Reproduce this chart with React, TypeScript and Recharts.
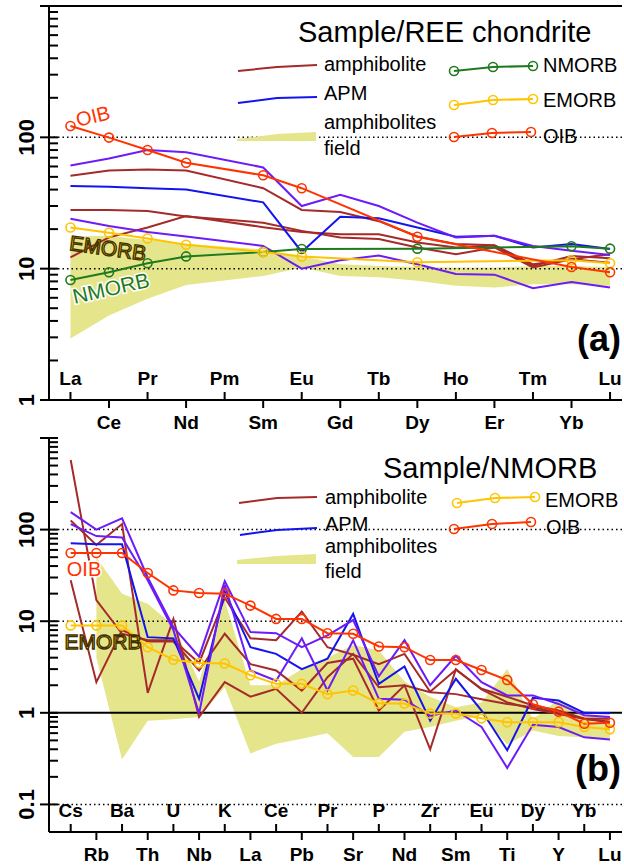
import React from 'react';
import { ComposedChart, Line, Area, XAxis, YAxis, ReferenceLine } from 'recharts';

const FONT = '"Liberation Sans", Arial, Helvetica, sans-serif';

const BROWN = '#a52a2a';
const BLUE = '#1414ee';
const VIOLET = '#6d1cf7';
const OIB_C = '#ff3300';
const EMORB_C = '#ffc400';
const NMORB_C = '#1f7a1f';
const FIELD_C = '#e5e58c';

// ---- panel (a): sample / chondrite ----
const reeLabels = ['La', 'Ce', 'Pr', 'Nd', 'Pm', 'Sm', 'Eu', 'Gd', 'Tb', 'Dy', 'Ho', 'Er', 'Tm', 'Yb', 'Lu'];
const reeOib = [122, 99.5, 80, 64, null, 51.4, 41, null, null, 17.5, null, null, null, 10.3, 9.4];
const reeEmorb = [20.6, 18.8, 17.0, 15.2, null, 13.4, 12.4, null, null, 11.2, null, null, null, 11.6, 11.0];
const reeNmorb = [8.2, 9.4, 11.0, 12.4, null, 13.4, 14.1, null, null, 14.2, null, null, null, 14.8, 14.2];
const reeAmph1 = [51, 56, 57, 56, null, 41, 28, 27, 23, 17.6, 15.4, 15.1, 10.8, 11.8, 12.9];
const reeAmph2 = [28, 28, 27.5, 25, null, 22.4, 19.4, 17.3, 16.8, 14.5, 12.9, 14.5, 10.2, 11.8, 11.1];
const reeAmph3 = [12.2, 17.3, 20.6, 25.2, null, 20.7, 19, 18.3, 18.3, 15.8, 14.5, 15, 10.5, 12.5, 12];
const reeApm1 = [61, 69, 80, 77, null, 59, 30, 36.5, 30, 22.4, 17.3, 17.8, 14.9, 13.7, 12.7];
const reeApm2 = [42.6, 42, 41, 40, null, 32, 13.4, 24.8, 24.2, 20.6, 17.5, 17.8, 14.5, 15.4, 14.1];
const reeApm3 = [24, 21.1, 19, 17.6, null, 14.9, 10, 11.6, 12.6, 10.8, 9.1, 9, 7.1, 7.9, 7.2];
const reeFieldLo = [2.94, 4.4, 5.9, 7.5, null, 8.8, 10.2, 8.8, 8.6, 8.1, 7.4, 7.2, 7.6, 7.6, 7.4];
const reeFieldHi = [17.6, 17.8, 16.5, 15.5, null, 14, 12.5, 10.8, 10.5, 10.3, 10.2, 10.2, 10.5, 10.5, 10.3];

// ---- panel (b): sample / NMORB ----
const spLabels = ['Cs', 'Rb', 'Ba', 'Th', 'U', 'Nb', 'K', 'La', 'Ce', 'Pb', 'Pr', 'Sr', 'P', 'Nd', 'Zr', 'Sm', 'Eu', 'Ti', 'Dy', 'Y', 'Yb', 'Lu'];
const spOib = [55.5, 55.5, 55.5, 33.6, 21.7, 20.3, 20, 14.8, 10.6, 10.6, 7.4, 7.3, 5.3, 5.2, 3.77, 3.77, 2.93, 2.28, 1.24, 1.03, 0.76, 0.78];
const spEmorb = [9.0, 9.0, 9.0, 5.2, 3.8, 3.5, 3.45, 2.57, 2.07, 2.07, 1.6, 1.75, 1.26, 1.26, 0.98, 0.98, 0.87, 0.79, 0.79, 0.79, 0.7, 0.66];
const spAmph1 = [575, 17, 7.3, 6.2, 6.2, 3.5, 18, 6.5, 6.2, 12.7, 5.2, 4.3, 3.4, 4.4, 1.7, 2.95, 1.83, 1.5, 1.2, 1.06, 0.86, 0.86];
const spAmph2 = [126, 68, 115, 1.65, 10.6, 0.9, 2.16, 1.5, 1.83, 1.0, 2.45, 4.4, 1.9, 2.0, 0.4, 3.0, 1.8, 1.3, 1.1, 0.97, 0.86, 0.79];
const spAmph3 = [28, 2.16, 8, 6.0, 6.0, 2.9, 7.3, 3.4, 2.9, 1.75, 3.5, 3.9, 1.06, 2.0, 1.68, 1.6, 1.41, 1.25, 1.15, 1.0, 0.86, 0.8];
const spApm1 = [155, 100, 133, 30, 8.6, 4.1, 27.5, 7.6, 7.4, 5.2, 7.0, 10.3, 2.5, 6.2, 2.0, 4.2, 2.16, 1.55, 1.55, 1.25, 0.94, 0.9];
const spApm2 = [71, 69, 69, 6.7, 6.5, 1.42, 21, 5.2, 4.4, 3.0, 3.9, 12, 2.07, 3.2, 0.82, 2.35, 1.06, 0.39, 1.46, 1.36, 1.0, 0.99];
const spApm3 = [115, 85, 82, 28, 8.0, 0.98, 25, 2.9, 2.24, 6.5, 1.75, 6.2, 1.42, 1.39, 0.93, 1.06, 0.7, 0.25, 0.74, 0.7, 0.54, 0.51];
const spFieldLo = [null, 4.0, 0.31, 0.82, 0.85, 0.9, 1.9, 0.36, 0.46, 0.52, 0.6, 0.33, 0.33, 0.62, 0.7, 0.82, 0.94, 0.45, 0.64, 0.56, 0.54, 0.52];
const spFieldHi = [null, 50, 20, 15.5, 9, 2.2, 16.9, 2.0, 2.0, 3.0, 4.0, 5.5, 4.8, 2.2, 1.5, 1.15, 1.3, 3.0, 0.85, 1.4, 0.95, 0.9];

const LEFT = 49;

function buildRows(labels, series, lo, hi) {
  return labels.map((name, i) => {
    const row: any = { x: i, name };
    Object.keys(series).forEach((k) => {
      row[k] = series[k][i];
    });
    row.field = lo[i] != null && hi[i] != null ? [lo[i], hi[i]] : null;
    return row;
  });
}

function logTicks(decades: number[]) {
  const t: number[] = [];
  decades.forEach((d, j) => {
    t.push(d);
    if (j < decades.length - 1) {
      [2, 3, 4, 5, 6, 7, 8, 9].forEach((k) => t.push(+(d * k).toPrecision(3)));
    }
  });
  return t;
}

function YTick(props) {
  const { y, payload, labelled } = props;
  const v = payload.value;
  const lg = Math.log10(v);
  const major = Math.abs(lg - Math.round(lg)) < 1e-6;
  return (
    <g>
      <line x1={major ? LEFT - 9 : LEFT} x2={LEFT + 9} y1={y} y2={y} stroke="#000" strokeWidth={2} />
      {labelled.includes(v) && (
        <text
          transform={`translate(26,${y}) rotate(-90)`}
          textAnchor="middle"
          dominantBaseline="central"
          fontSize={22}
          fontWeight="bold"
          fontFamily={FONT}
          fill="#000"
        >
          {String(v)}
        </text>
      )}
    </g>
  );
}

function XTick(props) {
  const { x, payload, labels, axisY } = props;
  const i = payload.value;
  const up = i % 2 === 0;
  return (
    <g>
      <line x1={x} x2={x} y1={axisY} y2={up ? axisY - 8 : axisY + 8} stroke="#000" strokeWidth={2} />
      <text
        x={x}
        y={up ? axisY - 22 : axisY + 22}
        textAnchor="middle"
        dominantBaseline="central"
        fontSize={19}
        fontWeight="bold"
        fontFamily={FONT}
        fill="#000"
      >
        {labels[i]}
      </text>
    </g>
  );
}

const sampleLine = (key, color) => (
  <Line
    key={key}
    type="linear"
    dataKey={key}
    stroke={color}
    strokeWidth={2}
    dot={false}
    connectNulls
    isAnimationActive={false}
  />
);

const refLine = (key, color) => (
  <Line
    key={key}
    type="linear"
    dataKey={key}
    stroke={color}
    strokeWidth={2}
    dot={{ r: 4.5, fill: 'none', stroke: color, strokeWidth: 1.6 }}
    connectNulls
    isAnimationActive={false}
  />
);

function Panel({ rows, labels, height, top, bottom, xDomain, yDomain, ticks, labelled, dotted, solid, samples, refs }) {
  const axisY = height - bottom;
  return (
    <ComposedChart width={624} height={height} data={rows} margin={{ top, right: 2, bottom: 0, left: 0 }}>
      <XAxis
        type="number"
        dataKey="x"
        domain={xDomain}
        allowDataOverflow
        ticks={labels.map((_, i) => i)}
        interval={0}
        height={bottom}
        tickLine={false}
        axisLine={{ stroke: '#000', strokeWidth: 2 }}
        tick={(p) => <XTick {...p} labels={labels} axisY={axisY} />}
      />
      <YAxis
        type="number"
        scale="log"
        domain={yDomain}
        allowDataOverflow
        ticks={ticks}
        interval={0}
        width={LEFT}
        tickLine={false}
        axisLine={{ stroke: '#000', strokeWidth: 2 }}
        tick={(p) => <YTick {...p} labelled={labelled} />}
      />
      {dotted.map((v) => (
        <ReferenceLine key={'d' + v} y={v} stroke="#000" strokeWidth={1.5} strokeDasharray="1.5 3" />
      ))}
      {solid.map((v) => (
        <ReferenceLine key={'s' + v} y={v} stroke="#000" strokeWidth={2} />
      ))}
      <Area
        type="linear"
        dataKey="field"
        stroke="none"
        fill={FIELD_C}
        fillOpacity={1}
        connectNulls
        isAnimationActive={false}
      />
      {samples.map(([k, c]) => sampleLine(k, c))}
      {refs.map(([k, c]) => refLine(k, c))}
    </ComposedChart>
  );
}

function LegendLine({ pts, color, circles }) {
  return (
    <g>
      <polyline points={pts.map((p) => p.join(',')).join(' ')} fill="none" stroke={color} strokeWidth={2} />
      {circles && pts.map((p, i) => <circle key={i} cx={p[0]} cy={p[1]} r={4.5} fill="none" stroke={color} strokeWidth={1.6} />)}
    </g>
  );
}

function LegendText({ x, y, children }) {
  return (
    <text x={x} y={y} fontSize={20} dominantBaseline="central" fill="#000">
      {children}
    </text>
  );
}

const rowsA = buildRows(
  reeLabels,
  { amph1: reeAmph1, amph2: reeAmph2, amph3: reeAmph3, apm1: reeApm1, apm2: reeApm2, apm3: reeApm3, nmorb: reeNmorb, emorb: reeEmorb, oib: reeOib },
  reeFieldLo,
  reeFieldHi
);
const rowsB = buildRows(
  spLabels,
  { amph1: spAmph1, amph2: spAmph2, amph3: spAmph3, apm1: spApm1, apm2: spApm2, apm3: spApm3, emorb: spEmorb, oib: spOib },
  spFieldLo,
  spFieldHi
);

const samplesAll = [
  ['amph1', BROWN],
  ['amph2', BROWN],
  ['amph3', BROWN],
  ['apm2', BLUE],
  ['apm1', VIOLET],
  ['apm3', VIOLET],
];

export default function App() {
  return (
    <div style={{ position: 'absolute', left: 0, top: 0, width: 624, height: 866, background: '#fff', fontFamily: FONT }}>
      <div style={{ position: 'absolute', left: 0, top: 0 }}>
        <Panel
          rows={rowsA}
          labels={reeLabels}
          height={440}
          top={6}
          bottom={40}
          xDomain={[-0.557, 14.31]}
          yDomain={[1, 1000]}
          ticks={logTicks([1, 10, 100, 1000])}
          labelled={[1, 10, 100]}
          dotted={[10, 100]}
          solid={[]}
          samples={samplesAll}
          refs={[
            ['nmorb', NMORB_C],
            ['emorb', EMORB_C],
            ['oib', OIB_C],
          ]}
        />
      </div>
      <div style={{ position: 'absolute', left: 0, top: 430 }}>
        <Panel
          rows={rowsB}
          labels={spLabels}
          height={436}
          top={8}
          bottom={34}
          xDomain={[-0.845, 21.47]}
          yDomain={[0.05, 1000]}
          ticks={logTicks([0.1, 1, 10, 100, 1000])}
          labelled={[0.1, 1, 10, 100]}
          dotted={[0.1, 10, 100]}
          solid={[1]}
          samples={samplesAll}
          refs={[
            ['emorb', EMORB_C],
            ['oib', OIB_C],
          ]}
        />
      </div>
      <svg
        width={624}
        height={866}
        style={{ position: 'absolute', left: 0, top: 0, pointerEvents: 'none' }}
        fontFamily={FONT}
      >
        <line x1={40} y1={6} x2={622} y2={6} stroke="#000" strokeWidth={2} />

        {/* panel (a) legend */}
        <text x={298} y={42} fontSize={29} fill="#000">Sample/REE chondrite</text>
        <LegendLine pts={[[238, 71], [277, 67], [317, 65]]} color={BROWN} />
        <LegendText x={324} y={64}>amphibolite</LegendText>
        <LegendLine pts={[[238, 103], [277, 98], [317, 97]]} color={BLUE} />
        <LegendText x={324} y={93}>APM</LegendText>
        <polygon points="237,139 277,134 316,132 316,141 237,141" fill={FIELD_C} />
        <LegendText x={324} y={122}>amphibolites</LegendText>
        <LegendText x={324} y={148}>field</LegendText>
        <LegendLine pts={[[454, 71], [493, 67], [533, 66]]} color={NMORB_C} circles />
        <LegendText x={543} y={65}>NMORB</LegendText>
        <LegendLine pts={[[454, 105], [493, 100], [533, 99]]} color={EMORB_C} circles />
        <LegendText x={543} y={100}>EMORB</LegendText>
        <LegendLine pts={[[454, 137], [492, 133], [531, 132]]} color={OIB_C} circles />
        <LegendText x={543} y={136}>OIB</LegendText>

        <text x={93} y={116} fontSize={20} fill={OIB_C} stroke="#fff" strokeWidth={3} paintOrder="stroke" textAnchor="middle" dominantBaseline="central" transform="rotate(-13 93 116)">OIB</text>
        <text x={108} y={248} fontSize={21} fill={EMORB_C} stroke="#3d3000" strokeWidth={1.3} textAnchor="middle" dominantBaseline="central" transform="rotate(8 108 248)">EMORB</text>
        <text x={111} y={288} fontSize={21} fill={NMORB_C} stroke="#fff" strokeWidth={3} paintOrder="stroke" textAnchor="middle" dominantBaseline="central" transform="rotate(-13 111 288)">NMORB</text>
        <text x={577} y={351} fontSize={36} fontWeight="bold" fill="#000">(a)</text>

        {/* panel (b) legend */}
        <text x={383} y={478} fontSize={29} fill="#000">Sample/NMORB</text>
        <LegendLine pts={[[239, 503], [277, 498], [317, 497]]} color={BROWN} />
        <LegendText x={325} y={497}>amphibolite</LegendText>
        <LegendLine pts={[[240, 535], [277, 530], [317, 528]]} color={BLUE} />
        <LegendText x={325} y={524}>APM</LegendText>
        <polygon points="237,560 277,556 316,554 316,564 237,564" fill={FIELD_C} />
        <LegendText x={325} y={546}>amphibolites</LegendText>
        <LegendText x={325} y={571}>field</LegendText>
        <LegendLine pts={[[457, 503], [495, 498], [535, 497]]} color={EMORB_C} circles />
        <LegendText x={545} y={500}>EMORB</LegendText>
        <LegendLine pts={[[454, 529], [492, 524], [531, 522]]} color={OIB_C} circles />
        <LegendText x={546} y={527}>OIB</LegendText>

        <text x={84} y={569} fontSize={20} fill={OIB_C} stroke="#fff" strokeWidth={3} paintOrder="stroke" textAnchor="middle" dominantBaseline="central">OIB</text>
        <text x={103} y={641} fontSize={21} fill={EMORB_C} stroke="#3d3000" strokeWidth={1.3} textAnchor="middle" dominantBaseline="central">EMORB</text>
        <text x={575} y={781} fontSize={36} fontWeight="bold" fill="#000">(b)</text>
      </svg>
    </div>
  );
}
